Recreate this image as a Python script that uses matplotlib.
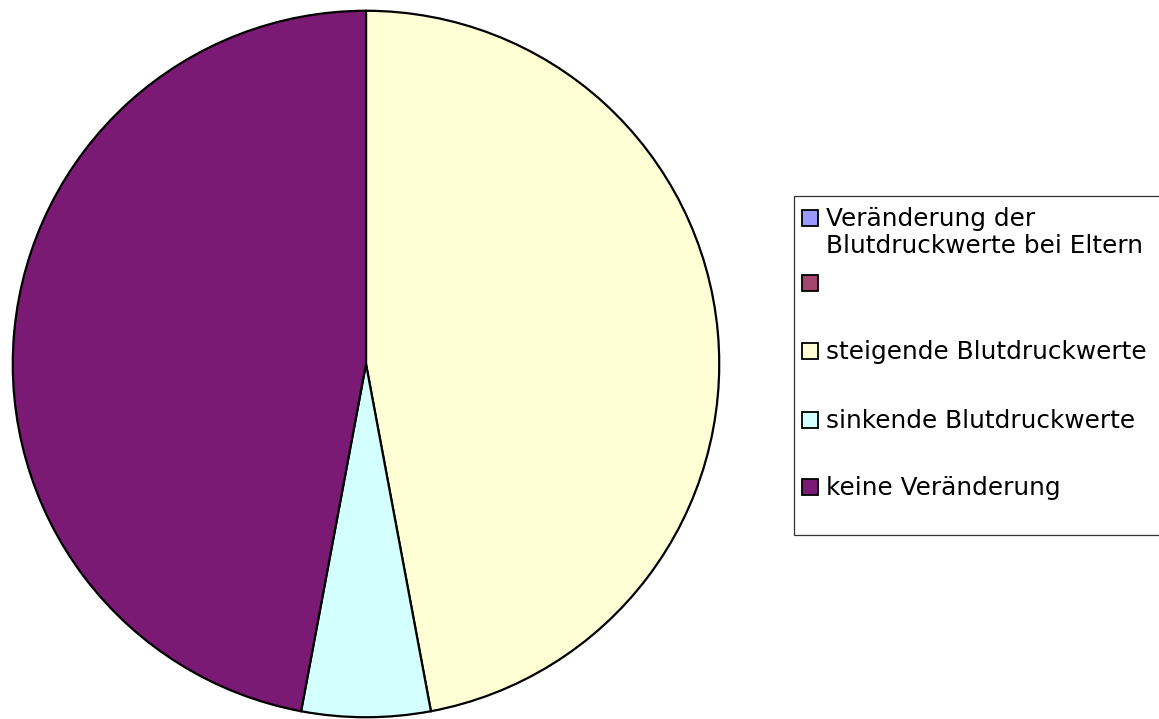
import matplotlib
matplotlib.use('Agg')
import matplotlib.pyplot as plt
from matplotlib.patches import Rectangle

# Blutdruckveränderung bei Eltern
labels = [
    'Veränderung der\nBlutdruckwerte bei Eltern',
    '',
    'steigende Blutdruckwerte',
    'sinkende Blutdruckwerte',
    'keine Veränderung',
]
values = [0, 0, 8, 1, 8]
colors = ['#9999FF', '#A3456F', '#FFFFD5', '#D4FFFF', '#7A1A74']

W, H = 1159, 719
fig = plt.figure(figsize=(W / 100, H / 100), dpi=100)
fig.patch.set_facecolor('white')

# pie axes placed in pixel units
cx, cy, r = 366, 364, 355
ax = fig.add_axes([(cx - r) / W, (H - cy - r) / H, 2 * r / W, 2 * r / H])
shown = [(v, c) for v, c in zip(values, colors) if v > 0]
ax.pie([v for v, _ in shown], colors=[c for _, c in shown],
       startangle=90, counterclock=False, radius=1.0,
       wedgeprops=dict(edgecolor='black', linewidth=1.6))
ax.set_xlim(-1.005, 1.005)
ax.set_ylim(-1.005, 1.005)
ax.set_aspect('equal')
ax.axis('off')


# legend drawn by hand in pixel coordinates (y measured from the top)
def px(x, y):
    return x / W, 1 - y / H


box_l, box_t, box_r, box_b = 794, 196, 1160, 535
x0, y0 = px(box_l, box_b)
x1, y1 = px(box_r, box_t)
fig.patches.append(Rectangle((x0, y0), x1 - x0, y1 - y0, transform=fig.transFigure,
                             facecolor='white', edgecolor='#333333', linewidth=0.9))

baselines = [226, 291, 359, 428, 495]
sq = 16
for lab, col, base in zip(labels, colors, baselines):
    sx, sy = px(802, base)
    fig.patches.append(Rectangle((sx, sy), sq / W, sq / H, transform=fig.transFigure,
                                 facecolor=col, edgecolor='black', linewidth=1.3))
    for i, line in enumerate(lab.split('\n')):
        tx, ty = px(826, base + 27 * i)
        fig.text(tx, ty, line, fontsize=17.8, family='DejaVu Sans',
                 va='baseline', ha='left', color='black')

fig.savefig('out.png', dpi=100, facecolor='white')
